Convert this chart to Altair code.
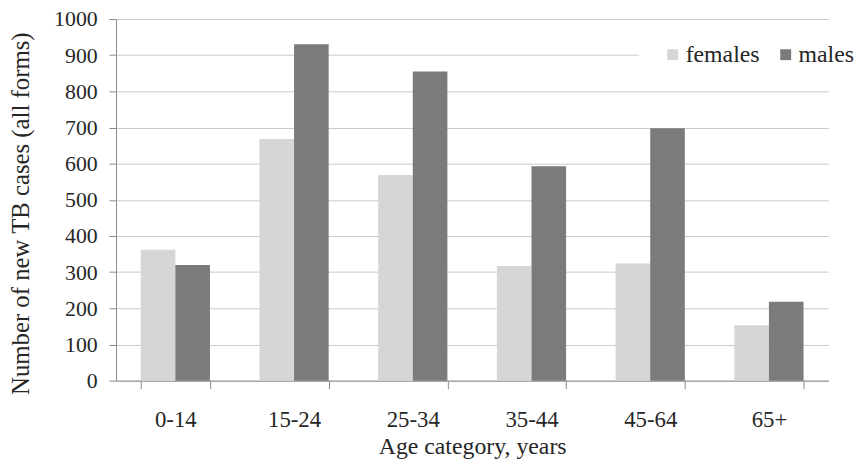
import altair as alt
import pandas as pd

categories = ["0-14", "15-24", "25-34", "35-44", "45-64", "65+"]
females = [362, 668, 569, 317, 324, 153]
males = [320, 930, 855, 593, 698, 218]
series = ["females", "males"]

rows = []
for i, c in enumerate(categories):
    rows.append({"age": c, "sex": "females", "cases": females[i]})
    rows.append({"age": c, "sex": "males", "cases": males[i]})
df = pd.DataFrame(rows)

FONT = "Liberation Serif"

chart = alt.Chart(df).mark_bar().encode(
    x=alt.X("age:N", sort=categories, title="Age category, years",
            scale=alt.Scale(paddingInner=0.417, paddingOuter=0.2085),
            axis=alt.Axis(labelAngle=0, tickBand="extent", tickSize=8,
                          labelPadding=20, titlePadding=4, grid=False,
                          labelFontSize=23, titleFontSize=24)),
    xOffset=alt.XOffset("sex:N", sort=series),
    y=alt.Y("cases:Q", title="Number of new TB cases (all forms)",
            scale=alt.Scale(domain=[0, 1000]),
            axis=alt.Axis(values=list(range(0, 1001, 100)), format="d", tickSize=7,
                          labelPadding=12, labelFontSize=22, titleFontSize=25,
                          titleX=-96, titleY=196, titleBaseline="middle",
                          gridColor="#c9c9c9")),
    color=alt.Color("sex:N", sort=series,
                    scale=alt.Scale(domain=series, range=["#d6d6d6", "#7b7b7b"]),
                    legend=alt.Legend(title=None, orient="none", direction="horizontal",
                                      legendX=528, legendY=2, padding=22,
                                      fillColor="white", symbolType="square",
                                      symbolSize=121, labelFontSize=24,
                                      labelOffset=1, columnPadding=14,
                                      symbolStrokeWidth=0)),
).properties(
    width=719, height=365,
    autosize="none",
    padding={"left": 109, "top": 9, "right": 31, "bottom": 80},
).configure(font=FONT).configure_view(stroke=None).configure_axis(
    labelFont=FONT, titleFont=FONT, labelColor="#262626", titleColor="#262626",
    titleFontWeight="normal", domainColor="#8a8a8a", tickColor="#8a8a8a",
).configure_legend(labelFont=FONT, labelColor="#262626")

chart.save("out.html", embed_options={"renderer": "svg", "actions": False})
